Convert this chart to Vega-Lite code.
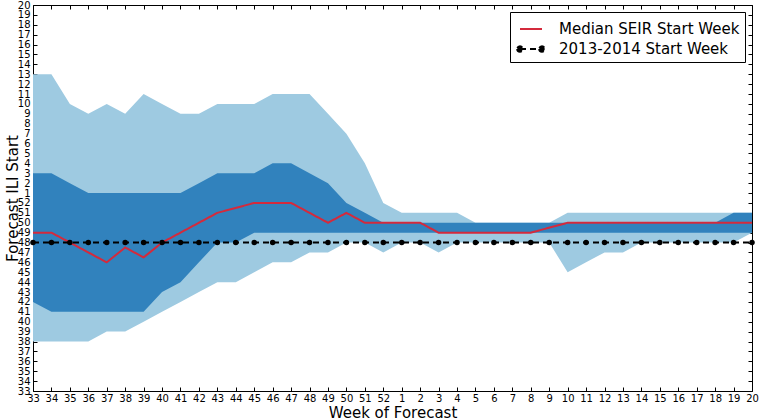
{
 "$schema": "https://vega.github.io/schema/vega-lite/v6.json",
 "width": 719,
 "height": 386,
 "autosize": {"type": "none"},
 "padding": {"left": 33, "top": 5, "right": 7, "bottom": 29},
 "config": {
  "font": "DejaVu Sans",
  "view": {"stroke": "#000", "strokeWidth": 1},
  "axis": {
   "domain": false, "grid": false, "tickColor": "#000", "tickSize": -4, "tickWidth": 1,
   "labelColor": "#000", "labelFontSize": 10, "labelFont": "DejaVu Sans",
   "titleColor": "#000", "titleFontSize": 15, "titleFontWeight": "normal", "titleFont": "DejaVu Sans"
  },
  "legend": {
   "orient": "top-right", "offset": 7, "padding": 5, "strokeColor": "#000", "fillColor": "#fff",
   "labelFontSize": 15, "labelColor": "#000", "labelFont": "DejaVu Sans", "labelLimit": 0, "symbolType": "stroke",
   "symbolSize": 484, "symbolStrokeWidth": 2, "symbolOffset": 4, "labelOffset": 16, "rowPadding": 0, "cornerRadius": 0
  }
 },
 "data": {"values": [
  {"i":0,"lo90":5,"hi90":32,"lo50":9,"hi50":22,"median":16,"observed":15},
  {"i":1,"lo90":5,"hi90":32,"lo50":8,"hi50":22,"median":16,"observed":15},
  {"i":2,"lo90":5,"hi90":29,"lo50":8,"hi50":21,"median":15,"observed":15},
  {"i":3,"lo90":5,"hi90":28,"lo50":8,"hi50":20,"median":14,"observed":15},
  {"i":4,"lo90":6,"hi90":29,"lo50":8,"hi50":20,"median":13,"observed":15},
  {"i":5,"lo90":6,"hi90":28,"lo50":8,"hi50":20,"median":14.5,"observed":15},
  {"i":6,"lo90":7,"hi90":30,"lo50":8,"hi50":20,"median":13.5,"observed":15},
  {"i":7,"lo90":8,"hi90":29,"lo50":10,"hi50":20,"median":15,"observed":15},
  {"i":8,"lo90":9,"hi90":28,"lo50":11,"hi50":20,"median":16,"observed":15},
  {"i":9,"lo90":10,"hi90":28,"lo50":13,"hi50":21,"median":17,"observed":15},
  {"i":10,"lo90":11,"hi90":29,"lo50":15,"hi50":22,"median":18,"observed":15},
  {"i":11,"lo90":11,"hi90":29,"lo50":15,"hi50":22,"median":18.5,"observed":15},
  {"i":12,"lo90":12,"hi90":29,"lo50":16,"hi50":22,"median":19,"observed":15},
  {"i":13,"lo90":13,"hi90":30,"lo50":16,"hi50":23,"median":19,"observed":15},
  {"i":14,"lo90":13,"hi90":30,"lo50":16,"hi50":23,"median":19,"observed":15},
  {"i":15,"lo90":14,"hi90":30,"lo50":16,"hi50":22,"median":18,"observed":15},
  {"i":16,"lo90":14,"hi90":28,"lo50":16,"hi50":21,"median":17,"observed":15},
  {"i":17,"lo90":15,"hi90":26,"lo50":16,"hi50":19,"median":18,"observed":15},
  {"i":18,"lo90":15,"hi90":23,"lo50":16,"hi50":18,"median":17,"observed":15},
  {"i":19,"lo90":14,"hi90":19,"lo50":16,"hi50":17,"median":17,"observed":15},
  {"i":20,"lo90":15,"hi90":18,"lo50":16,"hi50":17,"median":17,"observed":15},
  {"i":21,"lo90":15,"hi90":18,"lo50":16,"hi50":17,"median":17,"observed":15},
  {"i":22,"lo90":14,"hi90":18,"lo50":16,"hi50":17,"median":16,"observed":15},
  {"i":23,"lo90":15,"hi90":18,"lo50":16,"hi50":17,"median":16,"observed":15},
  {"i":24,"lo90":15,"hi90":17,"lo50":16,"hi50":17,"median":16,"observed":15},
  {"i":25,"lo90":15,"hi90":17,"lo50":16,"hi50":17,"median":16,"observed":15},
  {"i":26,"lo90":15,"hi90":17,"lo50":16,"hi50":17,"median":16,"observed":15},
  {"i":27,"lo90":15,"hi90":17,"lo50":16,"hi50":17,"median":16,"observed":15},
  {"i":28,"lo90":15,"hi90":17,"lo50":16,"hi50":17,"median":16.5,"observed":15},
  {"i":29,"lo90":12,"hi90":18,"lo50":16,"hi50":17,"median":17,"observed":15},
  {"i":30,"lo90":13,"hi90":18,"lo50":16,"hi50":17,"median":17,"observed":15},
  {"i":31,"lo90":14,"hi90":18,"lo50":16,"hi50":17,"median":17,"observed":15},
  {"i":32,"lo90":14,"hi90":18,"lo50":16,"hi50":17,"median":17,"observed":15},
  {"i":33,"lo90":15,"hi90":18,"lo50":16,"hi50":17,"median":17,"observed":15},
  {"i":34,"lo90":15,"hi90":18,"lo50":16,"hi50":17,"median":17,"observed":15},
  {"i":35,"lo90":15,"hi90":18,"lo50":16,"hi50":17,"median":17,"observed":15},
  {"i":36,"lo90":15,"hi90":18,"lo50":16,"hi50":17,"median":17,"observed":15},
  {"i":37,"lo90":15,"hi90":18,"lo50":16,"hi50":17,"median":17,"observed":15},
  {"i":38,"lo90":15,"hi90":18,"lo50":16,"hi50":18,"median":17,"observed":15},
  {"i":39,"lo90":16,"hi90":18,"lo50":16,"hi50":18,"median":17,"observed":15}
 ]},
 "resolve": {"axis": {"x": "independent", "y": "independent"}},
 "layer": [
  {
   "mark": {"type": "area", "color": "#9ecae1", "opacity": 1},
   "encoding": {
    "x": {"field": "i", "type": "quantitative",
     "scale": {"domain": [0, 39], "nice": false, "zero": false},
     "axis": {"orient": "bottom", "title": "Week of Forecast", "values": [0,1,2,3,4,5,6,7,8,9,10,11,12,13,14,15,16,17,18,19,20,21,22,23,24,25,26,27,28,29,30,31,32,33,34,35,36,37,38,39],
      "labelExpr": "datum.value < 20 ? datum.value + 33 : datum.value - 19", "labelPadding": 6, "labelFlush": false, "labelOverlap": false,
      "titleBaseline": "alphabetic", "titleY": 26}},
    "y": {"field": "lo90", "type": "quantitative",
     "scale": {"domain": [0, 39], "nice": false, "zero": false},
     "axis": {"orient": "left", "title": "Forecast ILI Start", "values": [0,1,2,3,4,5,6,7,8,9,10,11,12,13,14,15,16,17,18,19,20,21,22,23,24,25,26,27,28,29,30,31,32,33,34,35,36,37,38,39],
      "labelExpr": "datum.value < 20 ? datum.value + 33 : datum.value - 19", "labelPadding": 7, "labelFlush": false, "labelOverlap": false,
      "titleBaseline": "alphabetic", "titleX": -16, "titleY": 193, "titleAngle": -90, "titleAlign": "center"}},
    "y2": {"field": "hi90"}
   }
  },
  {
   "mark": {"type": "area", "color": "#3182bd", "opacity": 1},
   "encoding": {
    "x": {"field": "i", "type": "quantitative",
     "axis": {"orient": "top", "title": null, "labels": false, "values": [0,1,2,3,4,5,6,7,8,9,10,11,12,13,14,15,16,17,18,19,20,21,22,23,24,25,26,27,28,29,30,31,32,33,34,35,36,37,38,39]}},
    "y": {"field": "lo50", "type": "quantitative",
     "axis": {"orient": "right", "title": null, "labels": false, "values": [0,1,2,3,4,5,6,7,8,9,10,11,12,13,14,15,16,17,18,19,20,21,22,23,24,25,26,27,28,29,30,31,32,33,34,35,36,37,38,39]}},
    "y2": {"field": "hi50"}
   }
  },
  {
   "mark": {"type": "line", "strokeWidth": 2},
   "encoding": {
    "x": {"field": "i", "type": "quantitative", "axis": null},
    "y": {"field": "median", "type": "quantitative", "axis": null},
    "color": {"datum": "Median SEIR Start Week", "type": "nominal",
     "scale": {"domain": ["Median SEIR Start Week", "2013-2014 Start Week"], "range": ["#d42a3c", "#000000"]},
     "legend": {"title": null,
      "encode": {"symbols": {"update": {
       "shape": {"signal": "datum.value === '2013-2014 Start Week' ? 'M-1,0L1,0M-1.25,0a0.25,0.25 0 1,0 0.5,0a0.25,0.25 0 1,0 -0.5,0M0.75,0a0.25,0.25 0 1,0 0.5,0a0.25,0.25 0 1,0 -0.5,0' : 'stroke'"},
       "fill": {"signal": "datum.value === '2013-2014 Start Week' ? '#000' : 'transparent'"}
      }}}}},
    "strokeDash": {"datum": "Median SEIR Start Week", "type": "nominal",
     "scale": {"domain": ["Median SEIR Start Week", "2013-2014 Start Week"], "range": [[1, 0], [6, 4]]},
     "legend": {"title": null}}
   }
  },
  {
   "mark": {"type": "line", "strokeWidth": 2},
   "encoding": {
    "x": {"field": "i", "type": "quantitative", "axis": null},
    "y": {"field": "observed", "type": "quantitative", "axis": null},
    "color": {"datum": "2013-2014 Start Week", "type": "nominal"},
    "strokeDash": {"datum": "2013-2014 Start Week", "type": "nominal"}
   }
  },
  {
   "mark": {"type": "point", "filled": true, "color": "#000", "size": 30, "opacity": 1},
   "encoding": {
    "x": {"field": "i", "type": "quantitative", "axis": null},
    "y": {"field": "observed", "type": "quantitative", "axis": null}
   }
  }
 ]
}
